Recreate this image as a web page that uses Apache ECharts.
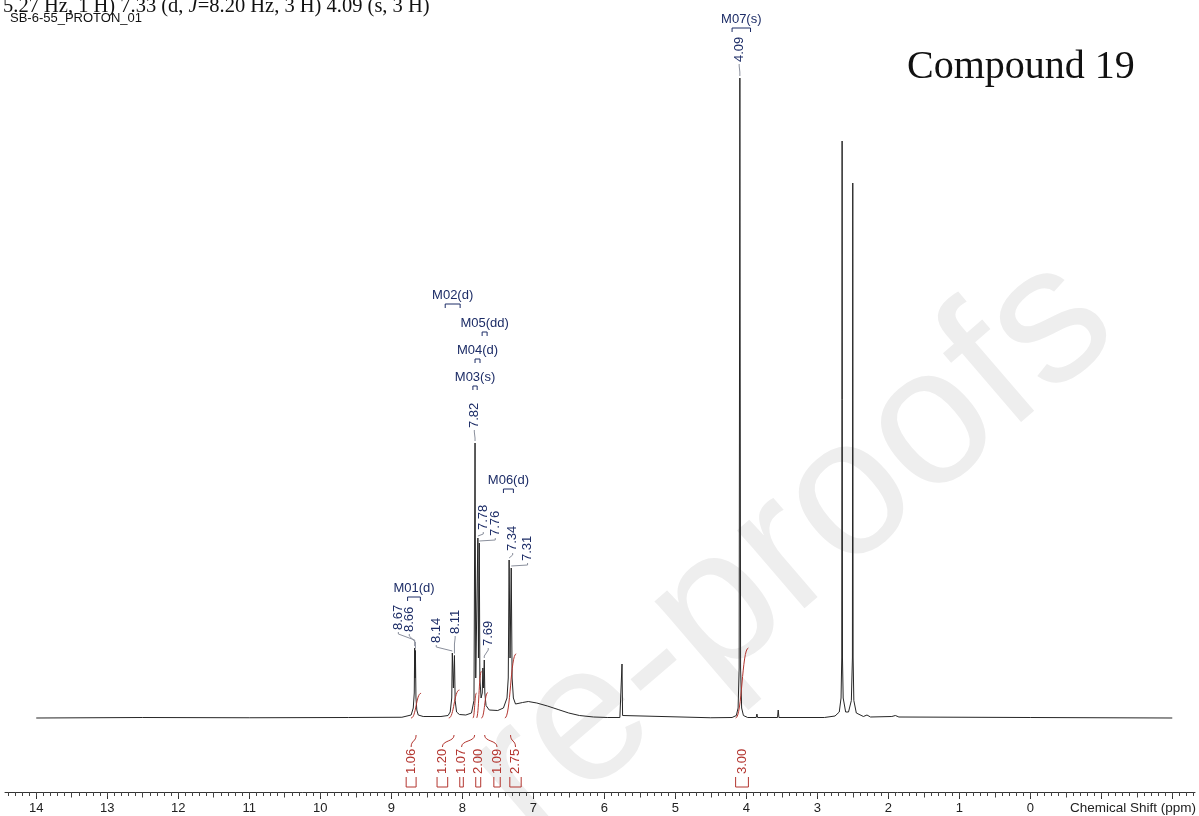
<!DOCTYPE html>
<html>
<head>
<meta charset="utf-8">
<title>SB-6-55_PROTON_01</title>
<script src="https://cdn.jsdelivr.net/npm/echarts@6/dist/echarts.min.js"></script>
<style>
  html, body { margin: 0; padding: 0; background: #ffffff; }
  #chart { width: 1199px; height: 816px; }
</style>
</head>
<body>
<div id="chart"></div>
<script>
// 1H NMR spectrum: [chemical shift (ppm), intensity (a.u.)]
const spectrum = [
  [14.0, 0], [12.5, 0.1], [11.0, 0.05], [9.6, 0.1], [8.85, 0.15],
  [8.72, 0.6], [8.69, 2], [8.676, 5], [8.670, 14], [8.665, 8], [8.660, 13.5], [8.652, 4], [8.64, 1.6], [8.62, 0.6], [8.55, 0.3],
  [8.30, 0.3], [8.20, 0.5], [8.17, 1.2], [8.148, 4], [8.140, 13], [8.125, 6], [8.110, 12.5], [8.100, 3.5], [8.08, 1.2], [8.04, 0.7],
  [7.95, 0.6], [7.87, 1], [7.835, 3.5], [7.820, 55], [7.810, 8], [7.790, 8], [7.780, 36], [7.772, 12], [7.760, 35], [7.752, 8],
  [7.735, 4], [7.718, 5], [7.710, 10], [7.700, 6], [7.690, 11.6], [7.682, 5], [7.665, 2.5], [7.62, 1.6],
  [7.50, 1.5], [7.42, 2], [7.37, 4], [7.352, 8], [7.340, 31.6], [7.327, 12], [7.310, 30], [7.298, 8], [7.28, 4],
  [7.25, 2.8], [7.15, 3.1], [7.07, 3.3], [6.95, 3.0], [6.80, 2.4], [6.65, 1.7], [6.50, 1.0], [6.35, 0.5], [6.15, 0.2], [5.95, 0.1],
  [5.78, 0.1], [5.758, 0.5], [5.750, 10.8], [5.742, 0.5], [5.72, 0.1],
  [4.50, 0.05], [4.20, 0.1], [4.14, 0.5], [4.115, 2], [4.100, 10], [4.090, 128], [4.080, 10], [4.065, 2], [4.04, 0.5], [3.98, 0.1],
  [3.86, 0.1], [3.850, 0.8], [3.84, 0.1], [3.56, 0.1], [3.550, 1.6], [3.54, 0.1],
  [2.90, 0.1], [2.75, 0.4], [2.69, 1.2], [2.665, 4], [2.655, 12], [2.650, 115.4], [2.645, 12], [2.635, 4], [2.60, 1.2],
  [2.56, 1.2], [2.52, 3.5], [2.505, 12], [2.500, 107], [2.495, 12], [2.485, 3.5], [2.45, 1], [2.35, 0.3], [2.30, 0.6], [2.25, 0.2],
  [1.95, 0.3], [1.90, 0.5], [1.85, 0.2], [0.0, 0.1], [-2.0, 0]
];

// Picked peaks (ppm) and their heights
const peakShifts  = [8.67, 8.66, 8.14, 8.11, 7.82, 7.78, 7.76, 7.69, 7.34, 7.31, 4.09];
const peakHeights = [14, 13.5, 13, 12.5, 55, 36, 35, 11.6, 31.6, 30, 128];

// Multiplet annotations
const multipletNames  = ['M01(d)', 'M02(d)', 'M03(s)', 'M04(d)', 'M05(dd)', 'M06(d)', 'M07(s)'];
const multipletRanges = [[8.77, 8.59], [8.24, 8.03], [7.85, 7.79], [7.82, 7.75], [7.72, 7.65], [7.42, 7.28], [4.20, 3.94]];

// Integrals (relative H) and their ranges (ppm)
const integralValues = [1.06, 1.20, 1.07, 2.00, 1.09, 2.75, 3.00];
const integralRanges = [[8.72, 8.58], [8.19, 8.04], [7.85, 7.80], [7.80, 7.73], [7.73, 7.64], [7.40, 7.24], [4.15, 3.97]];

// Axis tick labels (ppm)
const tickLabels = [14, 13, 12, 11, 10, 9, 8, 7, 6, 5, 4, 3, 2, 1, 0];

// ---- layout ----
const PPM_MAX = 14.44, PPM_MIN = -2.32;
const Y_MIN = -14.8, Y_MAX = 128;
const NAVY = '#1c2c66';
const RED = '#b3352f';
const SANS = '"Liberation Sans", Arial, sans-serif';
const SERIF = '"Liberation Serif", "Times New Roman", serif';

// where each peak label sits: [ppm, intensity] of the label's lower end
const peakLabelAt = [[8.90, 17.6], [8.746, 17.2], [8.366, 15], [8.10, 16.8], [7.83, 58], [7.704, 37.6],
                     [7.535, 36.4], [7.634, 14.4], [7.29, 33.4], [7.08, 31.4], [4.10, 131.2]];
// vertical level (intensity units) of each multiplet bracket
const multipletLevel = [24.2, 82.8, 66.4, 71.8, 77.2, 45.8, 138];
// ppm position of each integral label under the trace
const integralLabelAt = [8.72, 8.28, 8.01, 7.775, 7.51, 7.25, 4.06];
// intensity units per proton for the integral curves
const H_SCALE = 14 / 3;

const minorTicks = [];
for (let t = 14.4; t >= -2.31; t -= 0.1) minorTicks.push(Math.round(t * 10) / 10);
const halfTicks = [];
for (let t = 14.5; t >= -2.31; t -= 1) halfTicks.push(t);
const majorTicks = [];
for (let t = 14; t >= -2; t -= 1) majorTicks.push(t);

const chart = echarts.init(document.getElementById('chart'), null, { renderer: 'canvas' });

function xAxisBase(extra) {
  return Object.assign({
    type: 'value', min: PPM_MIN, max: PPM_MAX, inverse: true, position: 'bottom',
    splitLine: { show: false }
  }, extra);
}

const option = {
  animation: false,
  backgroundColor: '#ffffff',
  grid: { left: 5, right: 4, top: 78, bottom: 24 },
  xAxis: [
    xAxisBase({
      axisLine: { show: true, onZero: false, lineStyle: { color: '#333', width: 1 } },
      axisTick: { show: true, customValues: majorTicks, length: 7, lineStyle: { color: '#333', width: 1 } },
      axisLabel: { show: true, customValues: tickLabels, margin: 10, color: '#222', fontSize: 13, fontFamily: SANS,
                   formatter: v => String(Math.round(v)) }
    }),
    xAxisBase({
      axisLine: { show: false, onZero: false },
      axisTick: { show: true, customValues: minorTicks, length: 4, lineStyle: { color: '#444', width: 1 } },
      axisLabel: { show: false }
    }),
    xAxisBase({
      axisLine: { show: false, onZero: false },
      axisTick: { show: true, customValues: halfTicks, length: 5.5, lineStyle: { color: '#444', width: 1 } },
      axisLabel: { show: false }
    })
  ],
  yAxis: { type: 'value', min: Y_MIN, max: Y_MAX, show: false },
  graphic: [
    {
      type: 'text', z: -10, x: 792, y: 548, rotation: 0.71,
      style: { text: 're-proofs', fill: '#eeeeee', font: '195px ' + SANS, align: 'center', verticalAlign: 'middle' }
    },
    {
      type: 'text', x: 3, y: 17,
      style: {
        text: '5.27 Hz, 1 H) 7.33 (d, {i|J}=8.20 Hz, 3 H) 4.09 (s, 3 H)',
        fill: '#111', fontFamily: SERIF, fontSize: 20.5, align: 'left', verticalAlign: 'bottom',
        rich: { i: { fontStyle: 'italic', fontFamily: SERIF, fontSize: 20.5, fill: '#111' } }
      }
    },
    {
      type: 'text', x: 10, y: 18,
      style: { text: 'SB-6-55_PROTON_01', fill: '#111', font: '13px ' + SANS, align: 'left', verticalAlign: 'middle' }
    },
    {
      type: 'text', x: 907, y: 67,
      style: { text: 'Compound 19', fill: '#111', font: '40px ' + SERIF, align: 'left', verticalAlign: 'middle' }
    },
    {
      type: 'text', x: 1196, y: 808,
      style: { text: 'Chemical Shift (ppm)', fill: '#222', font: '13.5px ' + SANS, align: 'right', verticalAlign: 'middle' }
    }
  ],
  series: [
    {
      name: 'spectrum', type: 'line', data: spectrum, showSymbol: false, symbol: 'none',
      lineStyle: { color: '#262626', width: 1 }, z: 3
    },
    {
      // integral curves, labels and brackets
      name: 'integrals', type: 'custom', clip: false, z: 4,
      data: integralValues.map((v, i) => [(integralRanges[i][0] + integralRanges[i][1]) / 2, v]),
      encode: { x: 0, y: 1 },
      renderItem(params, api) {
        const i = params.dataIndex;
        const v = integralValues[i];
        const [from, to] = integralRanges[i];
        const c = (from + to) / 2;
        const h = v * H_SCALE;
        const p0 = api.coord([from, 0]), p1 = api.coord([to, h]);
        const c0 = api.coord([c, 0]), c1 = api.coord([c, h]);
        const base = api.coord([integralLabelAt[i], 0]);
        const cBase = api.coord([c, 0]);
        const halfW = Math.max(1.5, Math.abs(p1[0] - p0[0]) / 2);
        const lx = base[0], by = base[1];
        const children = [
          { type: 'bezierCurve',
            shape: { x1: p0[0], y1: p0[1], cpx1: c0[0], cpy1: c0[1], cpx2: c1[0], cpy2: c1[1], x2: p1[0], y2: p1[1] },
            style: { stroke: RED, fill: null, lineWidth: 1 } },
          { type: 'text', x: lx, y: by + 56, rotation: Math.PI / 2,
            style: { text: v.toFixed(2), fill: RED, font: '13px ' + SANS, align: 'left', verticalAlign: 'middle' } },
          { type: 'polyline',
            shape: { points: [[lx - halfW, by + 59], [lx - halfW, by + 69], [lx + halfW, by + 69], [lx + halfW, by + 59]] },
            style: { stroke: RED, fill: null, lineWidth: 1 } }
        ];
        if (Math.abs(cBase[0] - lx) > 2) {
          children.push({ type: 'bezierCurve',
            shape: { x1: lx, y1: by + 29, cpx1: lx, cpy1: by + 22, cpx2: cBase[0], cpy2: by + 24, x2: cBase[0], y2: by + 17 },
            style: { stroke: RED, fill: null, lineWidth: 1 } });
        }
        return { type: 'group', children };
      }
    },
    {
      // peak-pick labels with leader lines
      name: 'peaks', type: 'custom', clip: false, z: 5,
      data: peakShifts.map((s, i) => [s, peakHeights[i]]),
      encode: { x: 0, y: 1 },
      renderItem(params, api) {
        const i = params.dataIndex;
        const p = api.coord([api.value(0), api.value(1)]);
        const l = api.coord(peakLabelAt[i]);
        const top = p[1] - 2;
        let elbow = Math.min(l[1] + 10, top);
        if (elbow < l[1] + 3) elbow = l[1] + 3;
        const pts = [[l[0], l[1] + 2], [l[0], l[1] + 4], [p[0], elbow], [p[0], Math.max(top, elbow)]];
        return {
          type: 'group',
          children: [
            { type: 'text', x: l[0], y: l[1], rotation: Math.PI / 2,
              style: { text: peakShifts[i].toFixed(2), fill: NAVY, font: '13px ' + SANS, align: 'left', verticalAlign: 'middle' } },
            { type: 'polyline', shape: { points: pts }, style: { stroke: '#8a8f9c', fill: null, lineWidth: 1 } }
          ]
        };
      }
    },
    {
      // multiplet names with range brackets
      name: 'multiplets', type: 'custom', clip: false, z: 5,
      data: multipletRanges.map(r => [(r[0] + r[1]) / 2, 0]),
      encode: { x: 0, y: 1 },
      renderItem(params, api) {
        const i = params.dataIndex;
        const [from, to] = multipletRanges[i];
        const a = api.coord([from, multipletLevel[i]]);
        const b = api.coord([to, multipletLevel[i]]);
        const cx = (a[0] + b[0]) / 2;
        return {
          type: 'group',
          children: [
            { type: 'text', x: cx, y: a[1] - 9,
              style: { text: multipletNames[i], fill: NAVY, font: '13px ' + SANS, align: 'center', verticalAlign: 'middle' } },
            { type: 'polyline',
              shape: { points: [[a[0], a[1] + 4], [a[0], a[1]], [b[0], a[1]], [b[0], a[1] + 4]] },
              style: { stroke: NAVY, fill: null, lineWidth: 1 } }
          ]
        };
      }
    }
  ]
};

chart.setOption(option);
</script>
</body>
</html>
